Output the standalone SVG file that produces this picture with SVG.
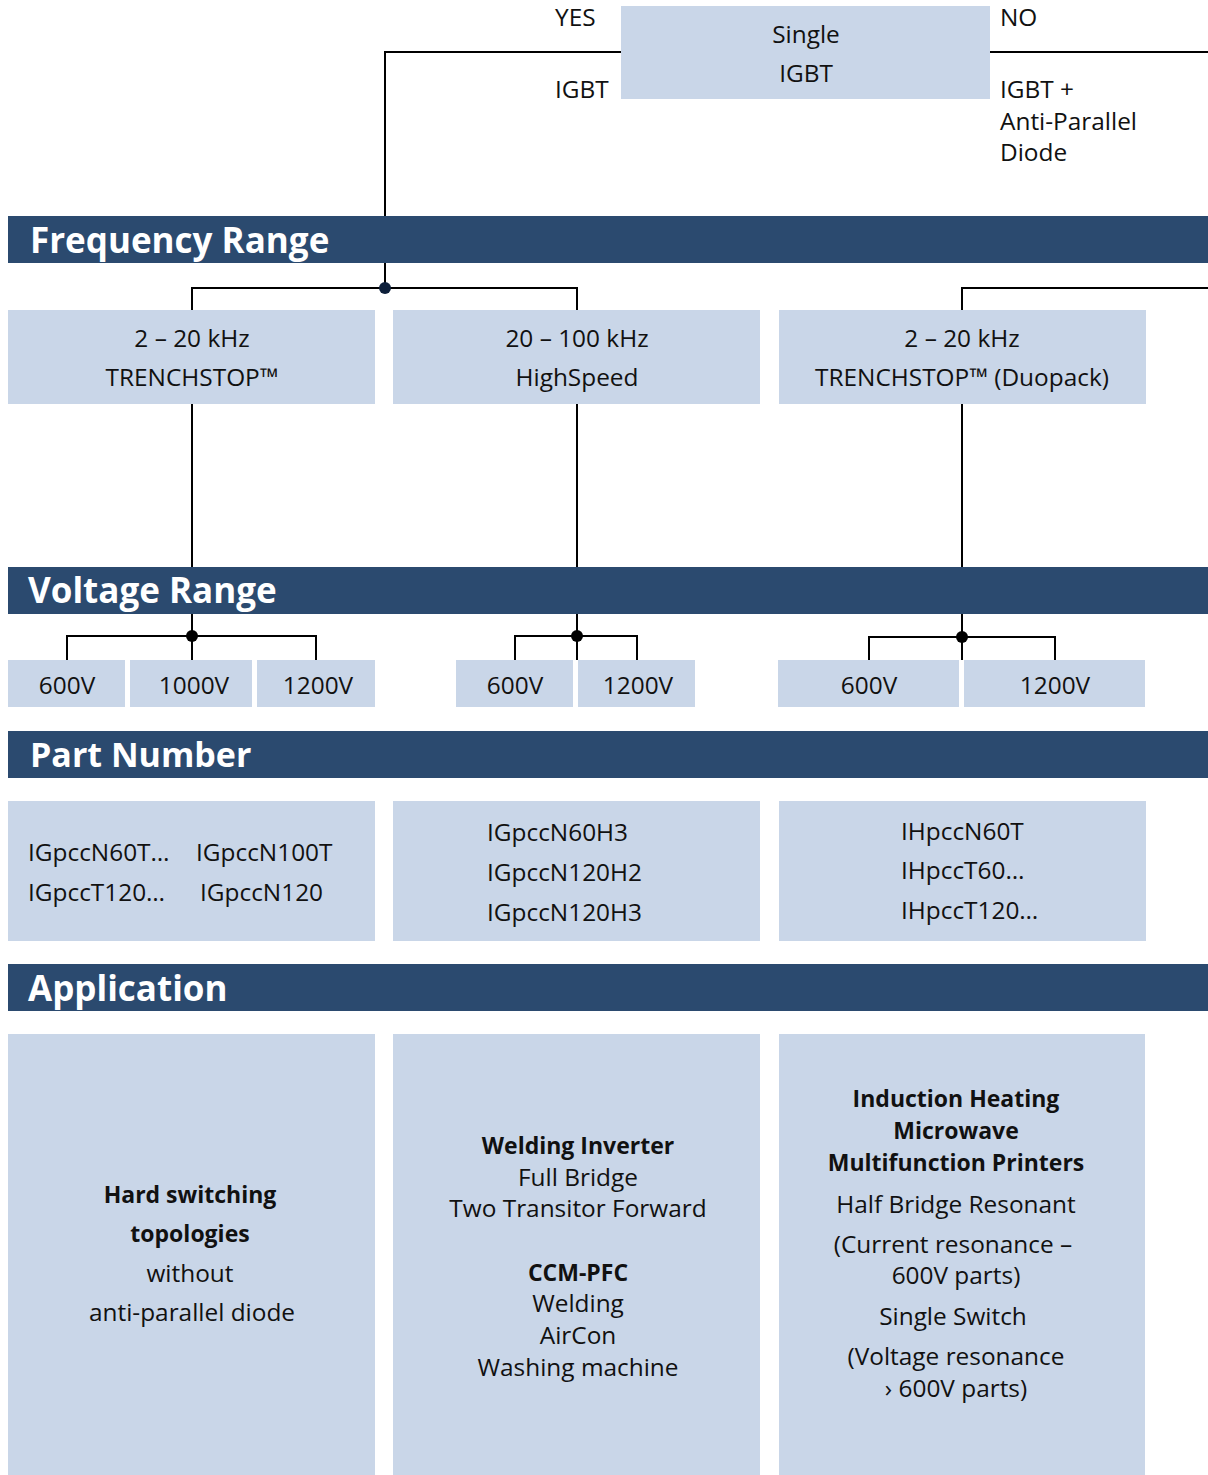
<svg xmlns="http://www.w3.org/2000/svg" width="1208" height="1475" viewBox="0 0 1208 1475">
<style>
text{font-family:"Open Sans","Liberation Sans",sans-serif;fill:#111;}
.t{font-size:24.4px;}
.c{text-anchor:middle;}
.b{font-weight:bold;font-size:23px;}
.box{fill:#c9d6e8;}
.band{fill:#2b4a6f;}
.head{font-size:35px;font-weight:bold;fill:#fff;}
.ln{stroke:#000;stroke-width:2;fill:none;}
.dot{fill:#0d1f3a;}
</style>
<rect width="1208" height="1475" fill="#fff"/>
<g id="connectors">
<path class="ln" d="M621 52H385V288M990 52H1208"/>
<path class="ln" d="M192 310V288H577V310M962 310V288H1208"/>
<path class="ln" d="M192 404V660M577 404V660M962 404V660"/>
<path class="ln" d="M67 660V636H316V660M515 660V636H637V660M869 660V637H1055V660"/>
<circle class="dot" cx="385" cy="288" r="6"/>
<circle cx="192" cy="636" r="6"/>
<circle cx="577" cy="636" r="6"/>
<circle cx="962" cy="637" r="6"/>
</g>
<g id="labels">
<text class="t" x="555" y="26">YES</text>
<text class="t" x="555" y="98">IGBT</text>
<text class="t" x="1000" y="26">NO</text>
<text class="t" x="1000" y="98">IGBT +</text>
<text class="t" x="1000" y="130">Anti-Parallel</text>
<text class="t" x="1000" y="161">Diode</text>
</g>
<g id="single-igbt">
<rect class="box" x="621" y="6" width="369" height="93"/>
<text class="t c" x="806" y="43">Single</text>
<text class="t c" x="806" y="82">IGBT</text>
</g>
<g id="band-frequency">
<rect class="band" x="8" y="216" width="1200" height="47"/>
<text class="head" x="30" y="253">Frequency Range</text>
</g>
<g id="freq-1">
<rect class="box" x="8" y="310" width="367" height="94"/>
<text class="t c" x="192" y="347">2 – 20 kHz</text>
<text class="t c" x="192" y="386">TRENCHSTOP™</text>
</g>
<g id="freq-2">
<rect class="box" x="393" y="310" width="367" height="94"/>
<text class="t c" x="577" y="347">20 – 100 kHz</text>
<text class="t c" x="577" y="386">HighSpeed</text>
</g>
<g id="freq-3">
<rect class="box" x="779" y="310" width="367" height="94"/>
<text class="t c" x="962" y="347">2 – 20 kHz</text>
<text class="t c" x="962" y="386">TRENCHSTOP™ (Duopack)</text>
</g>
<g id="band-voltage">
<rect class="band" x="8" y="567" width="1200" height="47"/>
<text class="head" x="28" y="603">Voltage Range</text>
</g>
<g id="v-1-600"><rect class="box" x="8" y="660" width="117" height="47"/><text class="t c" x="67" y="694">600V</text></g>
<g id="v-1-1000"><rect class="box" x="130" y="660" width="122" height="47"/><text class="t c" x="194" y="694">1000V</text></g>
<g id="v-1-1200"><rect class="box" x="257" y="660" width="118" height="47"/><text class="t c" x="318" y="694">1200V</text></g>
<g id="v-2-600"><rect class="box" x="456" y="660" width="117" height="47"/><text class="t c" x="515" y="694">600V</text></g>
<g id="v-2-1200"><rect class="box" x="578" y="660" width="117" height="47"/><text class="t c" x="638" y="694">1200V</text></g>
<g id="v-3-600"><rect class="box" x="778" y="660" width="181" height="47"/><text class="t c" x="869" y="694">600V</text></g>
<g id="v-3-1200"><rect class="box" x="964" y="660" width="181" height="47"/><text class="t c" x="1055" y="694">1200V</text></g>
<g id="band-part">
<rect class="band" x="8" y="731" width="1200" height="47"/>
<text class="head" x="30" y="767" style="font-size:34px">Part Number</text>
</g>
<g id="part-1">
<rect class="box" x="8" y="801" width="367" height="140"/>
<text class="t" x="28" y="861">IGpccN60T…</text>
<text class="t" x="196" y="861">IGpccN100T</text>
<text class="t" x="28" y="901">IGpccT120…</text>
<text class="t" x="200" y="901">IGpccN120</text>
</g>
<g id="part-2">
<rect class="box" x="393" y="801" width="367" height="140"/>
<text class="t" x="487" y="841">IGpccN60H3</text>
<text class="t" x="487" y="881">IGpccN120H2</text>
<text class="t" x="487" y="921">IGpccN120H3</text>
</g>
<g id="part-3">
<rect class="box" x="779" y="801" width="367" height="140"/>
<text class="t" x="901" y="840">IHpccN60T</text>
<text class="t" x="901" y="879">IHpccT60…</text>
<text class="t" x="901" y="919">IHpccT120…</text>
</g>
<g id="band-application">
<rect class="band" x="8" y="964" width="1200" height="47"/>
<text class="head" x="28" y="1001">Application</text>
</g>
<g id="app-1">
<rect class="box" x="8" y="1034" width="367" height="441"/>
<text class="t c b" x="190" y="1203">Hard switching</text>
<text class="t c b" x="190" y="1242">topologies</text>
<text class="t c" x="190" y="1282">without</text>
<text class="t c" x="192" y="1321">anti-parallel diode</text>
</g>
<g id="app-2">
<rect class="box" x="393" y="1034" width="367" height="441"/>
<text class="t c b" x="578" y="1154">Welding Inverter</text>
<text class="t c" x="578" y="1186">Full Bridge</text>
<text class="t c" x="578" y="1217">Two Transitor Forward</text>
<text class="t c b" x="578" y="1281">CCM-PFC</text>
<text class="t c" x="578" y="1312">Welding</text>
<text class="t c" x="578" y="1344">AirCon</text>
<text class="t c" x="578" y="1376">Washing machine</text>
</g>
<g id="app-3">
<rect class="box" x="779" y="1034" width="366" height="441"/>
<text class="t c b" x="956" y="1107">Induction Heating</text>
<text class="t c b" x="956" y="1139">Microwave</text>
<text class="t c b" x="956" y="1171">Multifunction Printers</text>
<text class="t c" x="956" y="1213">Half Bridge Resonant</text>
<text class="t c" x="953" y="1253">(Current resonance –</text>
<text class="t c" x="956" y="1284">600V parts)</text>
<text class="t c" x="953" y="1325">Single Switch</text>
<text class="t c" x="956" y="1365">(Voltage resonance</text>
<text class="t c" x="956" y="1397">› 600V parts)</text>
</g>
</svg>
